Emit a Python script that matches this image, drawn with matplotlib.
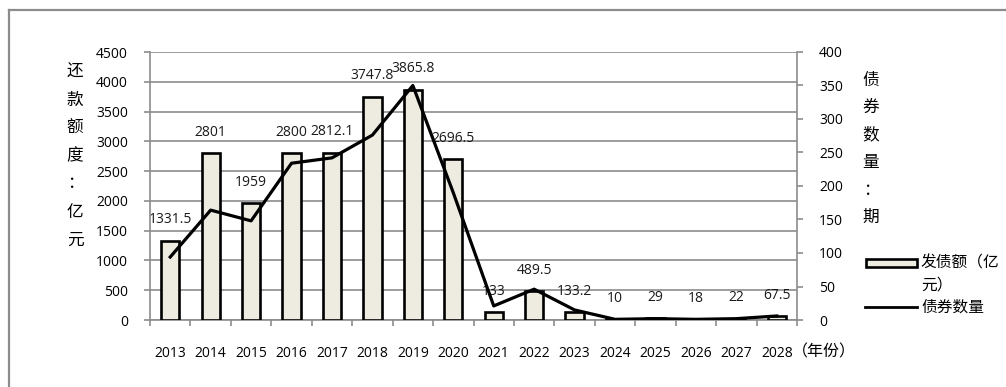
import matplotlib
matplotlib.use('Agg')
import matplotlib.pyplot as plt
from matplotlib.patches import Rectangle
from matplotlib.lines import Line2D
import numpy as np

plt.rcParams['font.family'] = ['Open Sans', 'Noto Sans CJK SC', 'DejaVu Sans']

years = ['2013', '2014', '2015', '2016', '2017', '2018', '2019', '2020',
         '2021', '2022', '2023', '2024', '2025', '2026', '2027', '2028']
amounts = [1331.5, 2801, 1959, 2800, 2812.1, 3747.8, 3865.8, 2696.5,
           133, 489.5, 133.2, 10, 29, 18, 22, 67.5]
amount_labels = ['1331.5', '2801', '1959', '2800', '2812.1', '3747.8', '3865.8', '2696.5',
                 '133', '489.5', '133.2', '10', '29', '18', '22', '67.5']
counts = [94, 164, 148, 234, 242, 276, 350, 190, 21, 46, 15, 1, 2, 1, 2, 6]

left_label = ['还', '款', '额', '度', '：', '亿', '元']
right_label = ['债', '券', '数', '量', '：', '期']
legend_labels = ['发债额（亿', '元）', '债券数量']
unit_label = '（年份）'

W, H = 1006, 387
fig = plt.figure(figsize=(W / 100, H / 100), dpi=100)


def fx(px):
    return px / W


def fy(py):
    return 1 - py / H


GRID = '#8c8c8c'
BAR_FILL = '#EEECE1'
CJK = ['Noto Sans CJK SC', 'DejaVu Sans']

ax = fig.add_axes([fx(150), fy(320), fx(797) - fx(150), fy(52) - fy(320)])
x = np.arange(len(years))
ax.bar(x, amounts, width=0.45, color=BAR_FILL, edgecolor='black', linewidth=1.9, zorder=3)
ax.set_xlim(-0.5, len(years) - 0.5)
ax.set_ylim(0, 4500)
ax.set_yticks(range(0, 4501, 500))
ax.yaxis.grid(True, color=GRID, linewidth=1.2)
ax.set_axisbelow(True)
ax.set_xticks(x)
ax.set_xticklabels(years)
ax.tick_params(axis='x', which='major', length=0, pad=19, labelsize=10)
ax.set_xticks(np.arange(-0.5, len(years), 1), minor=True)
ax.tick_params(axis='x', which='minor', length=4, color=GRID, width=1.2)
ax.tick_params(axis='y', length=4, color=GRID, width=1.2, pad=12, labelsize=10)
for s in ['top', 'right']:
    ax.spines[s].set_visible(False)
for s in ['left', 'bottom']:
    ax.spines[s].set_color(GRID)
    ax.spines[s].set_linewidth(1.2)

for xi, v, lab in zip(x, amounts, amount_labels):
    ax.annotate(lab, (xi, v), xytext=(0, 15), textcoords='offset points',
                ha='center', va='center', fontsize=10, color='#1a1a1a', zorder=2)

ax2 = ax.twinx()
ax2.plot(x, counts, color='black', linewidth=2.3, zorder=4)
ax2.set_ylim(0, 400)
ax2.set_yticks(range(0, 401, 50))
ax2.tick_params(axis='y', length=4, color=GRID, width=1.2, pad=12, labelsize=10)
for s in ['top', 'left', 'bottom']:
    ax2.spines[s].set_visible(False)
ax2.spines['right'].set_color(GRID)
ax2.spines['right'].set_linewidth(1.2)

# axis titles (vertical, one character per line)
for i, ch in enumerate(left_label):
    fig.text(fx(75), fy(72 + i * 28), ch, ha='center', va='center', fontsize=12,
             family=CJK, fontweight='light')
for i, ch in enumerate(right_label):
    fig.text(fx(871), fy(80 + i * 27.5), ch, ha='center', va='center', fontsize=12,
             family=CJK, fontweight='light')

fig.text(fx(792), fy(352), unit_label, ha='left', va='center', fontsize=11.5,
         family=CJK, fontweight='light')

# legend
fig.add_artist(Rectangle((fx(866), fy(267)), fx(917) - fx(866), fy(259) - fy(267),
                         facecolor=BAR_FILL, edgecolor='black', linewidth=1.9,
                         transform=fig.transFigure))
fig.text(fx(921), fy(263), legend_labels[0], ha='left', va='center', fontsize=11.3,
         family=CJK, fontweight='light')
fig.text(fx(921), fy(285), legend_labels[1], ha='left', va='center', fontsize=11.3,
         family=CJK, fontweight='light')
fig.add_artist(Line2D([fx(865), fx(917)], [fy(307), fy(307)], color='black', linewidth=2.0,
                      transform=fig.transFigure))
fig.text(fx(921), fy(307), legend_labels[2], ha='left', va='center', fontsize=11.3,
         family=CJK, fontweight='light')

# outer chart border
fig.add_artist(Line2D([fx(9), 1.0], [fy(10), fy(10)], color=GRID, linewidth=1.6,
                      transform=fig.transFigure))
fig.add_artist(Line2D([fx(9), fx(9)], [fy(10), 0.0], color=GRID, linewidth=1.6,
                      transform=fig.transFigure))

fig.savefig('out.png', dpi=100)
